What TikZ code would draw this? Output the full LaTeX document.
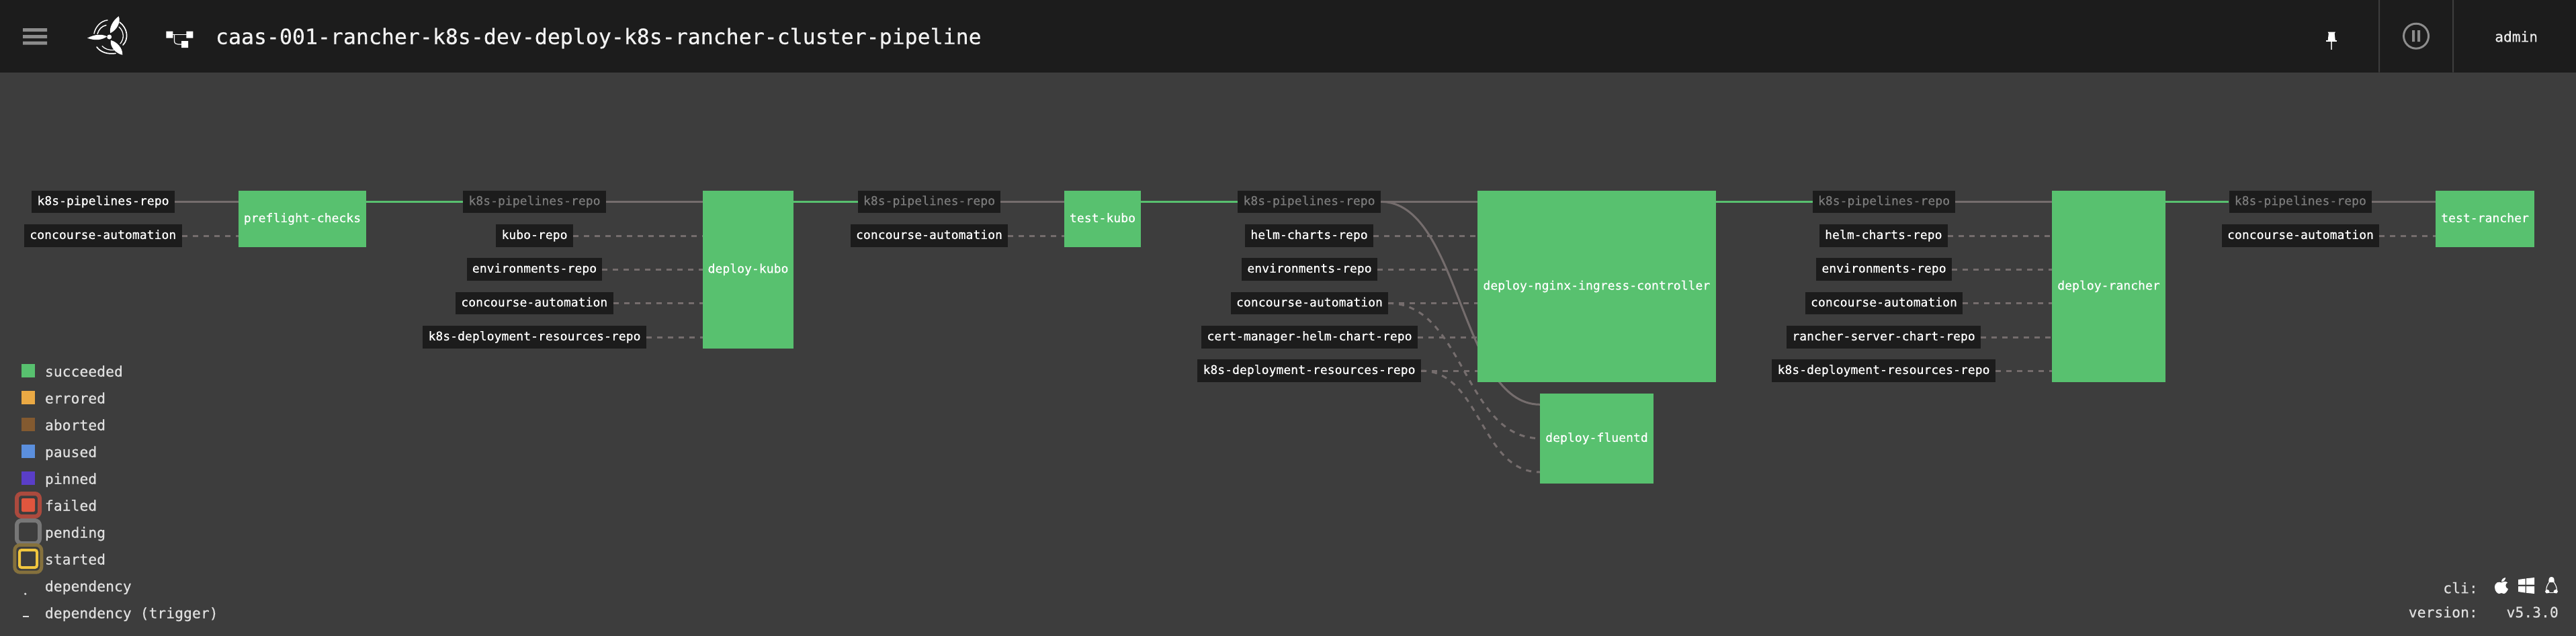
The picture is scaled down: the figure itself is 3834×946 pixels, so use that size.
\documentclass[tikz,border=0pt]{standalone}
\usepackage{fontspec}
\setmainfont[FakeBold=0.5]{DejaVu Sans Mono}
\usetikzlibrary{calc}
\definecolor{bgc}{HTML}{3D3D3D}
\definecolor{barc}{HTML}{1C1C1C}
\definecolor{okc}{HTML}{58C16F}
\definecolor{edgec}{HTML}{756D6D}
\definecolor{dimc}{HTML}{7A7A7A}
\definecolor{txtc}{HTML}{DEDEDE}
\definecolor{iconc}{HTML}{8C8C8C}
\definecolor{errc}{HTML}{EAA944}
\definecolor{abortc}{HTML}{835A30}
\definecolor{pausec}{HTML}{5B8FDD}
\definecolor{pinc}{HTML}{5A3EC8}
\definecolor{failc}{HTML}{E0563E}
\definecolor{failring}{HTML}{AB4A3E}
\definecolor{pendring}{HTML}{777777}
\definecolor{startc}{HTML}{F0C63F}
\definecolor{startring}{HTML}{85713D}
\pgfdeclarelayer{edges}
\pgfsetlayers{edges,main}
\tikzset{
  lab/.style={fill=barc,text=white,inner sep=0pt,text height=13.6pt,text depth=3.8pt,
    font=\fontsize{18.1}{20}\selectfont},
  labdim/.style={lab,text=dimc},
  job/.style={fill=okc,text=white,inner sep=0pt,text height=13.6pt,text depth=3.8pt,
    font=\fontsize{18.1}{20}\selectfont},
  dep/.style={draw=edgec,line width=3pt},
  trig/.style={draw=edgec,line width=3pt,dash pattern=on 8pt off 8pt},
  done/.style={draw=okc,line width=3.3pt},
  legtext/.style={text=txtc,inner sep=0pt,anchor=base west,font=\fontsize{21.4}{24}\selectfont},
  infotext/.style={text=txtc,inner sep=0pt,anchor=base east,font=\fontsize{21.4}{24}\selectfont},
  swatch/.style={inner sep=0pt,minimum size=20pt},
  blade/.style={fill=white,draw=none},
  swirl/.style={draw=white,line cap=round},
}
\begin{document}
\begin{tikzpicture}[x=1pt,y=-1pt]
\useasboundingbox (0,0) rectangle (3834,946);
\begin{pgfonlayer}{edges}
\fill[bgc] (-6,-6) rectangle (3840,952);
\fill[barc] (-6,-6) rectangle (3840,107.5);
\end{pgfonlayer}
% header
\fill[iconc] (34,42) rectangle (70,47) (34,52) rectangle (70,57) (34,61.5) rectangle (70,66.5);
% logo
\fill[white] (162.7,55) circle (3.5);
\fill[blade] (130,56.7) .. controls (142,50.5) and (152,50.5) .. (159.3,54.3) .. controls (152,59.5) and (142,61) .. (130,56.7) -- cycle;
\fill[blade] (176.7,24.3) .. controls (180,32) and (175,44) .. (164.3,49.3) .. controls (162,42) and (168,30) .. (176.7,24.3) -- cycle;
\fill[blade] (182.3,81.7) .. controls (173,80) and (163,70) .. (165,60) .. controls (174,62) and (183,72) .. (182.3,81.7) -- cycle;
\draw[swirl,line width=1.5pt] (140,50) .. controls (142,40) and (150,31) .. (160,30);
\draw[swirl,line width=1.5pt] (145,50.5) .. controls (147,44) and (151,39) .. (158,37.5);
\draw[swirl,line width=1.7pt] (178,33) .. controls (190,42) and (192,58) .. (183,67);
\draw[swirl,line width=1.3pt] (177,40) .. controls (185,47) and (185,58) .. (179,65);
\draw[swirl,line width=1.7pt] (144,70) .. controls (150,78) and (160,81) .. (172,79.5);
\draw[swirl,line width=1.3pt] (152,68.5) .. controls (156,73) and (162,75) .. (170,74.5);
% pipeline icon
\fill[white] (247.3,46.7) rectangle (257.3,56.7) (277.3,46.7) rectangle (287.3,56.7) (270,61) rectangle (280,71);
\draw[white,line width=1.2pt] (257,51.2) -- (278,51.2);
\draw[white,line width=1.2pt] (259.5,52) -- (259.5,61) .. controls (259.5,64.5) and (262,66) .. (265,66) -- (271,66);
\node[text=white!95!black,inner sep=0pt,anchor=base west,font=\fontsize{31.55}{34}\selectfont] (title) at (320.8,65.7) {caas-001-rancher-k8s-dev-deploy-k8s-rancher-cluster-pipeline};
% pin
\fill[white] (3464.6,47.7) -- (3475.8,47.7) -- (3474.6,50) -- (3475.8,60.5) -- (3464.6,60.5) -- (3465.8,50) -- cycle;
\fill[white] (3462,60.3) rectangle (3478,62);
\fill[white!80!black] (3469.4,62) rectangle (3470.7,73.7);
% dividers and pause
\fill[bgc] (3540,0) rectangle (3542,107.5) (3650,0) rectangle (3652,107.5);
\draw[iconc,line width=3pt] (3596,53.7) circle (18.5);
\fill[iconc] (3590,45) rectangle (3594,62) (3598,45) rectangle (3602,62);
\node[legtext,text=white!92!black,font=\fontsize{21.2}{24}\selectfont] (admin) at (3713,62.3) {admin};

% column 1
\node[lab,minimum width=213,minimum height=32.7] (p1) at (153.5,300.35) {k8s-pipelines-repo};
\node[lab,minimum width=235,minimum height=34] (c1) at (153.3,351) {concourse-automation};
\node[job,minimum width=190,minimum height=84] (preflight) at (450,326) {preflight-checks};
% column 2
\node[labdim,minimum width=213,minimum height=32.7] (p2) at (795.5,300.35) {k8s-pipelines-repo};
\node[lab,minimum width=115,minimum height=34] (kubo) at (795.5,351) {kubo-repo};
\node[lab,minimum width=201,minimum height=34] (env2) at (795.5,401) {environments-repo};
\node[lab,minimum width=235,minimum height=33] (c2) at (795.3,451.5) {concourse-automation};
\node[lab,minimum width=333,minimum height=34] (kd2) at (795.5,502) {k8s-deployment-resources-repo};
\node[job,minimum width=135,minimum height=234.7] (dkubo) at (1113.5,401.35) {deploy-kubo};
% column 3
\node[labdim,minimum width=212,minimum height=32.7] (p3) at (1383,300.35) {k8s-pipelines-repo};
\node[lab,minimum width=234,minimum height=34] (c3) at (1383,351) {concourse-automation};
\node[job,minimum width=114,minimum height=84] (tkubo) at (1641,326) {test-kubo};
% column 4
\node[labdim,minimum width=213,minimum height=32.7] (p4) at (1948.5,300.35) {k8s-pipelines-repo};
\node[lab,minimum width=191,minimum height=34] (helm4) at (1948.5,351) {helm-charts-repo};
\node[lab,minimum width=202,minimum height=34] (env4) at (1949,401) {environments-repo};
\node[lab,minimum width=234,minimum height=33] (c4) at (1949,451.5) {concourse-automation};
\node[lab,minimum width=322,minimum height=34] (cert) at (1949,502) {cert-manager-helm-chart-repo};
\node[lab,minimum width=333,minimum height=34] (kd4) at (1948.5,552) {k8s-deployment-resources-repo};
\node[job,minimum width=354.6,minimum height=285] (nginx) at (2376.3,426.5) {deploy-nginx-ingress-controller};
\node[job,minimum width=169,minimum height=134] (fluentd) at (2376.5,653) {deploy-fluentd};
\coordinate (fin1) at (2292,602.3);
\coordinate (fin2) at (2292,652.7);
\coordinate (fin3) at (2292,703);
% column 5
\node[labdim,minimum width=212,minimum height=32.7] (p5) at (2804,300.35) {k8s-pipelines-repo};
\node[lab,minimum width=191.4,minimum height=34] (helm5) at (2803.3,351) {helm-charts-repo};
\node[lab,minimum width=202,minimum height=34] (env5) at (2804,401) {environments-repo};
\node[lab,minimum width=234,minimum height=33] (c5) at (2804,451.5) {concourse-automation};
\node[lab,minimum width=289,minimum height=34] (rsc) at (2803.5,502) {rancher-server-chart-repo};
\node[lab,minimum width=333,minimum height=34] (kd5) at (2803.5,552) {k8s-deployment-resources-repo};
\node[job,minimum width=169,minimum height=285] (drancher) at (3138.5,426.5) {deploy-rancher};
% column 6
\node[labdim,minimum width=212.4,minimum height=32.7] (p6) at (3423.8,300.35) {k8s-pipelines-repo};
\node[lab,minimum width=234,minimum height=34] (c6) at (3424,351) {concourse-automation};
\node[job,minimum width=147,minimum height=84] (trancher) at (3698.5,326) {test-rancher};

\begin{pgfonlayer}{edges}
% finished steps to their outputs
\draw[done] (preflight.east |- p2.west) -- (p2.west);
\draw[done] (dkubo.east |- p3.west) -- (p3.west);
\draw[done] (tkubo.east |- p4.west) -- (p4.west);
\draw[done] (nginx.east |- p5.west) -- (p5.west);
\draw[done] (drancher.east |- p6.west) -- (p6.west);
% solid dependencies
\draw[dep] (p1.east) -- (p1.east -| preflight.west);
\draw[dep] (p2.east) -- (p2.east -| dkubo.west);
\draw[dep] (p3.east) -- (p3.east -| tkubo.west);
\draw[dep] (p4.east) -- (p4.east -| nginx.west);
\draw[dep] (p5.east) -- (p5.east -| drancher.west);
\draw[dep] (p6.east) -- (p6.east -| trancher.west);
\draw[dep] (p4.east) .. controls (2173.5,300.35) and (2173.5,602.3) .. (fin1);
% trigger dependencies
\foreach \a/\b in {c1/preflight,kubo/dkubo,env2/dkubo,c2/dkubo,kd2/dkubo,c3/tkubo,
  helm4/nginx,env4/nginx,c4/nginx,cert/nginx,kd4/nginx,
  helm5/drancher,env5/drancher,c5/drancher,rsc/drancher,kd5/drancher,c6/trancher}
  \draw[trig] (\a.east) -- (\a.east -| \b.west);
\draw[trig] (c4.east) .. controls (2179,451.5) and (2179,652.7) .. (fin2);
\draw[trig] (kd4.east) .. controls (2203.5,552) and (2203.5,703) .. (fin3);
\end{pgfonlayer}

% legend
\node[swatch,fill=okc] (s1) at (42,552) {};
\node[swatch,fill=errc] (s2) at (42,592) {};
\node[swatch,fill=abortc] (s3) at (42,632) {};
\node[swatch,fill=pausec] (s4) at (42,672) {};
\node[swatch,fill=pinc] (s5) at (42,712) {};
\fill[failc,rounded corners=2pt] (32,742) rectangle (52,762);
\draw[failring,line width=6pt,rounded corners=7pt] (25,735) rectangle (59,769);
\draw[pendring,line width=6pt,rounded corners=7pt] (25,775) rectangle (59,809);
\draw[startc,line width=4pt,rounded corners=3pt] (29,819) rectangle (55,845);
\draw[startring,line width=5pt,rounded corners=8pt] (21.8,811.5) rectangle (61.8,852.2);
\fill[txtc] (37.7,884.3) circle (1.8);
\fill[txtc] (33.7,916.6) rectangle (42.7,919.4);
\node[legtext] (l1) at (66.7,560.7) {succeeded};
\node[legtext] (l2) at (66.7,600.7) {errored};
\node[legtext] (l3) at (66.7,640.7) {aborted};
\node[legtext] (l4) at (66.7,680.7) {paused};
\node[legtext] (l5) at (66.7,720.7) {pinned};
\node[legtext] (l6) at (66.7,760.5) {failed};
\node[legtext] (l7) at (66.7,800.7) {pending};
\node[legtext] (l8) at (66.7,840.5) {started};
\node[legtext] (l9) at (66.7,880.5) {dependency};
\node[legtext] (l10) at (66.7,920.5) {dependency (trigger)};
% footer
\node[infotext] (cli) at (3688,883.3) {cli:};
\node[infotext] (ver) at (3688,919.3) {version:};
\node[infotext] (vnum) at (3808,919.3) {v5.3.0};
% apple
\fill[white] (3723,867.5) .. controls (3719,865.5) and (3713,867) .. (3713,874.5) .. controls (3713,880) and (3717,884) .. (3719.5,884) .. controls (3721,884) and (3722,883) .. (3723,883) .. controls (3724,883) and (3725,884) .. (3726.5,884) .. controls (3729,884) and (3731.5,880.5) .. (3733,877) .. controls (3728.5,875) and (3728,869.5) .. (3732,867.5) .. controls (3729.5,865) and (3726,866) .. (3723,867.5) -- cycle;
\fill[white] (3723,866.3) .. controls (3723,863) and (3725.5,860.5) .. (3729,860) .. controls (3729,863.5) and (3726.5,866) .. (3723,866.3) -- cycle;
% windows
\fill[white] (3748,863) -- (3758.5,861.6) -- (3758.5,870.6) -- (3748,870.6) -- cycle;
\fill[white] (3760,861.3) -- (3772,860) -- (3772,870.6) -- (3760,870.6) -- cycle;
\fill[white] (3748,873) -- (3758.5,873) -- (3758.5,882.6) -- (3748,881) -- cycle;
\fill[white] (3760,873) -- (3772,873) -- (3772,884) -- (3760,882.8) -- cycle;
% linux
\fill[white] (3797.5,859) .. controls (3793.5,859) and (3793,863) .. (3793.5,867) -- (3801.5,867) .. controls (3802,863) and (3801.5,859) .. (3797.5,859) -- cycle;
\draw[white,line width=1.1pt] (3794,867) .. controls (3791,871) and (3789,876) .. (3790,880) (3801,867) .. controls (3804,871) and (3806,876) .. (3805,880);
\fill[white] (3788,881) .. controls (3789,877) and (3791,877) .. (3793.5,879) -- (3795,882.5) -- (3790,883.5) -- cycle;
\fill[white] (3807,881) .. controls (3806,877) and (3804,877) .. (3801.5,879) -- (3800,882.5) -- (3805,883.5) -- cycle;
\draw[white,line width=.9pt] (3795,882) -- (3800,882);
\end{tikzpicture}
\end{document}
